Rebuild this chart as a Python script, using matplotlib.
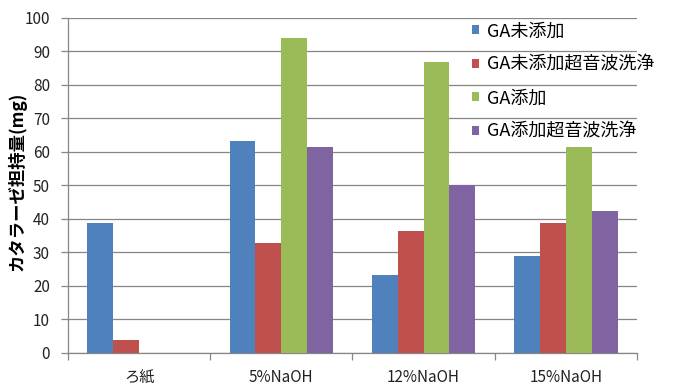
import matplotlib
matplotlib.use("Agg")
import matplotlib.pyplot as plt
import numpy as np

plt.rcParams["font.family"] = ["Noto Sans CJK JP", "DejaVu Sans"]

categories = ["ろ紙", "5%NaOH", "12%NaOH", "15%NaOH"]
series_names = ["GA未添加", "GA未添加超音波洗浄", "GA添加", "GA添加超音波洗浄"]
ga_none = [38.6, 63.3, 23.2, 28.9]
ga_none_us = [3.9, 32.6, 36.4, 38.6]
ga_added = [0, 94.0, 86.6, 61.5]
ga_added_us = [0, 61.5, 50.1, 42.4]
yticks = list(range(0, 101, 10))

# Excel 2007 default palette
colors = ["#4F81BD", "#C0504D", "#9BBB59", "#8064A2"]
GRID = "#868686"

fig = plt.figure(figsize=(6.75, 3.85), dpi=100, facecolor="white")
ax = fig.add_axes([0.1007, 0.0839, 0.843, 0.8706])

x = np.arange(len(categories))
width = 1 / 5.5  # gap width 150%
for i, (vals, name, c) in enumerate(zip([ga_none, ga_none_us, ga_added, ga_added_us],
                                        series_names, colors)):
    ax.bar(x + (i - 1.5) * width, vals, width, color=c, label=name, zorder=3)

ax.set_xlim(-0.5, len(categories) - 0.5)
ax.set_ylim(0, 100)
ax.set_yticks(yticks)
ax.yaxis.grid(True, color=GRID, linewidth=0.9, zorder=0)

# category labels centred, tick marks at group boundaries
ax.set_xticks(x)
ax.set_xticklabels(categories, fontsize=11, color="#222222")
ax.tick_params(axis="x", length=0, pad=12)
ax.set_xticks(np.arange(-0.5, len(categories), 1), minor=True)
ax.tick_params(axis="x", which="minor", length=5, color=GRID, width=0.9)
ax.tick_params(axis="y", length=5, color=GRID, width=0.9, labelsize=11,
               labelcolor="#222222", pad=8)

for side in ["top", "right"]:
    ax.spines[side].set_visible(False)
for side in ["left", "bottom"]:
    ax.spines[side].set_color(GRID)
    ax.spines[side].set_linewidth(0.9)

ax.set_ylabel("カタラーゼ担持量(mg)", fontsize=12.5, fontweight="bold")
ax.yaxis.set_label_coords(-0.073, 0.51)

ax.legend(loc="upper left", bbox_to_anchor=(0.699, 0.942), bbox_transform=fig.transFigure,
          frameon=False, fontsize=13, handlelength=0.4, handleheight=0.4,
          handletextpad=0.45, labelspacing=0.86, borderaxespad=0, borderpad=0)

fig.savefig("out.png", dpi=100, facecolor="white")
